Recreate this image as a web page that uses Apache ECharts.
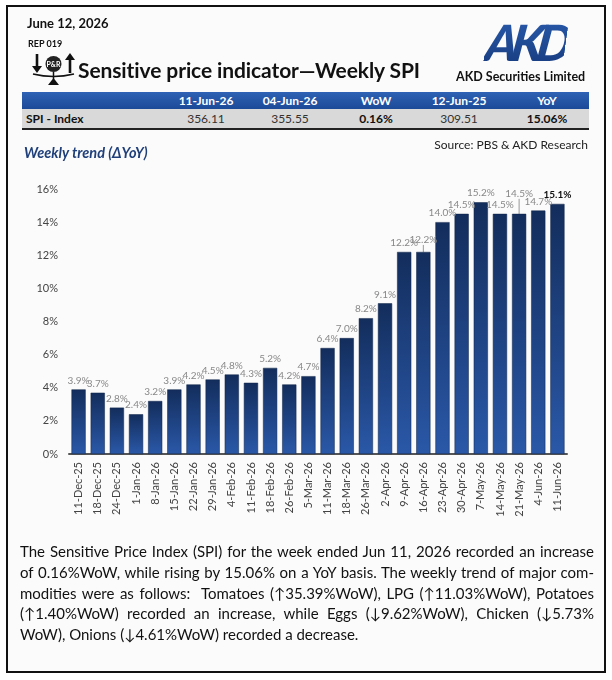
<!DOCTYPE html>
<html>
<head>
<meta charset="utf-8">
<script src="https://cdn.jsdelivr.net/npm/echarts@6/dist/echarts.min.js"></script>
<style>
  html, body { margin:0; padding:0; background:#fff; width:612px; height:680px; overflow:hidden; font-family: Lato, "Open Sans", sans-serif; }
  #frame { position:absolute; left:6px; top:5px; width:596px; height:664px; border:2px solid #111; background:#fbfbfb; }
  #chart { position:absolute; left:0; top:0; width:612px; height:680px; }
  .abs { position:absolute; white-space:nowrap; }
  #date { left:27px; top:15px; font-weight:bold; font-size:13px; color:#111; }
  #rep { left:28px; top:38px; font-weight:bold; font-size:9px; color:#111; }
  #title { left:78px; top:57px; font-weight:bold; font-size:21px; color:#111; letter-spacing:-0.1px; }
  #logo { left:486px; top:12px; font-weight:900; font-style:italic; font-size:50px; letter-spacing:-7px; transform:skewX(-8deg);
          background:linear-gradient(#2a5cae,#163a7c); -webkit-background-clip:text; background-clip:text; color:transparent; }
  #company { left:456px; top:69px; font-weight:bold; font-size:12.5px; color:#111; }
  #thead { left:22px; top:92px; width:567px; height:17px; background:linear-gradient(#2f62b4,#1b4a98); }
  #trow { left:22px; top:109px; width:567px; height:19px; background:#d9d9d9; border-bottom:2px solid #222; }
  .th { position:absolute; top:1px; color:#fff; font-weight:bold; font-size:12px; transform:translateX(-50%); white-space:nowrap; }
  .td { position:absolute; top:2px; color:#333; font-size:12px; transform:translateX(-50%); white-space:nowrap; }
  #sub { left:24px; top:144px; font-weight:bold; font-style:italic; font-size:14.5px; color:#1f3f7a; }
  #source { right:24px; top:137px; font-size:12px; color:#222; }
  #para { left:20px; top:541px; width:574px; font-size:15px; color:#111; line-height:20.8px; }
  #para .l { text-align:justify; text-align-last:justify; white-space:nowrap; }
  #para .last { text-align:left; text-align-last:left; }
</style>
</head>
<body>
<div id="frame"></div>
<div id="chart"></div>

<div class="abs" id="date">June 12, 2026</div>
<div class="abs" id="rep">REP 019</div>
<svg class="abs" style="left:31px;top:52px" width="46" height="34" viewBox="0 0 46 34">
  <line x1="6" y1="2" x2="6" y2="17" stroke="#111" stroke-width="2.6"/>
  <polygon points="1,14 11,14 6,21" fill="#111"/>
  <line x1="39" y1="21" x2="39" y2="6" stroke="#111" stroke-width="2.6"/>
  <polygon points="34,8 44,8 39,1" fill="#111"/>
  <circle cx="22.5" cy="12" r="8" fill="#222"/>
  <text x="22.5" y="14.5" font-size="7" font-weight="bold" fill="#fff" text-anchor="middle" font-family="Lato, sans-serif">P&amp;R</text>
  <path d="M2 22 Q22.5 27 43 22" stroke="#111" stroke-width="1.6" fill="none"/>
  <line x1="22.5" y1="20" x2="22.5" y2="27" stroke="#111" stroke-width="1.5"/>
  <polygon points="17,33 28,33 22.5,26" fill="#111"/>
</svg>
<div class="abs" id="title">Sensitive price indicator—Weekly SPI</div>
<div class="abs" id="logo">AKD</div>
<div class="abs" id="company">AKD Securities Limited</div>

<div class="abs" id="thead"></div>
<div class="abs" id="trow"></div>
<div class="abs" id="sub">Weekly trend (ΔYoY)</div>
<div class="abs" id="source">Source: PBS &amp; AKD Research</div>

<div class="abs" id="para">
  <div class="l">The Sensitive Price Index (SPI) for the week ended Jun 11, 2026 recorded an increase</div>
  <div class="l">of 0.16%WoW, while rising by 15.06% on a YoY basis. The weekly trend of major com-</div>
  <div class="l">modities were as follows:&nbsp; Tomatoes (↑35.39%WoW), LPG (↑11.03%WoW), Potatoes</div>
  <div class="l">(↑1.40%WoW) recorded an increase, while Eggs (↓9.62%WoW), Chicken (↓5.73%</div>
  <div class="l last">WoW), Onions (↓4.61%WoW) recorded a decrease.</div>
</div>

<script>
// ---- Data ----
const tableHeaders = ["11-Jun-26", "04-Jun-26", "WoW", "12-Jun-25", "YoY"];
const tableRowLabel = "SPI - Index";
const tableRowValues = ["356.11", "355.55", "0.16%", "309.51", "15.06%"];
const tableBold = [false, false, true, false, true];

const weeks = ["11-Dec-25","18-Dec-25","24-Dec-25","1-Jan-26","8-Jan-26","15-Jan-26","22-Jan-26","29-Jan-26",
  "4-Feb-26","11-Feb-26","18-Feb-26","26-Feb-26","5-Mar-26","11-Mar-26","18-Mar-26","26-Mar-26",
  "2-Apr-26","9-Apr-26","16-Apr-26","23-Apr-26","30-Apr-26","7-May-26","14-May-26","21-May-26","4-Jun-26","11-Jun-26"];
const yoyValues = [3.9,3.7,2.8,2.4,3.2,3.9,4.2,4.5,4.8,4.3,5.2,4.2,4.7,6.4,7.0,8.2,9.1,12.2,12.2,14.0,14.5,15.2,14.5,14.5,14.7,15.1];

// ---- Table ----
const colCenters = [184, 268, 354, 437, 525];
const thead = document.getElementById('thead');
const trow = document.getElementById('trow');
tableHeaders.forEach((h, i) => {
  const d = document.createElement('div'); d.className = 'th'; d.style.left = colCenters[i] + 'px'; d.textContent = h; thead.appendChild(d);
});
const lab = document.createElement('div'); lab.className = 'td'; lab.style.left = '4px'; lab.style.transform = 'none';
lab.style.fontWeight = 'bold'; lab.style.color = '#111'; lab.textContent = tableRowLabel; trow.appendChild(lab);
tableRowValues.forEach((v, i) => {
  const d = document.createElement('div'); d.className = 'td'; d.style.left = colCenters[i] + 'px'; d.textContent = v;
  if (tableBold[i]) { d.style.fontWeight = 'bold'; d.style.color = '#111'; }
  trow.appendChild(d);
});

// ---- Chart ----
const chart = echarts.init(document.getElementById('chart'), null, { renderer: 'canvas' });
const lastIdx = yoyValues.length - 1;
const barData = yoyValues.map((v, i) => {
  const item = { value: v };
  if (i === lastIdx) item.label = { color: '#111', fontWeight: 'bold' };
  if (i === 23 || i === 18) item.labelLine = { show: true };
  return item;
});
chart.setOption({
  backgroundColor: 'transparent',
  animation: false,
  grid: { left: 69, top: 189, width: 498, height: 265 },
  xAxis: {
    type: 'category', data: weeks,
    axisLine: { lineStyle: { color: '#555', width: 2 } },
    axisTick: { show: false },
    axisLabel: { rotate: 90, color: '#444', fontSize: 11, fontFamily: 'Lato, sans-serif', margin: 8, interval: 0 }
  },
  yAxis: {
    type: 'value', min: 0, max: 16, interval: 2,
    splitLine: { show: false },
    axisLine: { show: false }, axisTick: { show: false },
    axisLabel: { formatter: '{value}%', color: '#444', fontSize: 11, fontFamily: 'Lato, sans-serif', margin: 11 }
  },
  series: [{
    type: 'bar', data: barData, barCategoryGap: '26%',
    itemStyle: {
      color: new echarts.graphic.LinearGradient(0, 0, 0, 1, [
        { offset: 0, color: '#132d5c' }, { offset: 1, color: '#2a58a8' }
      ]),
      borderColor: '#0f2448', borderWidth: 0.5
    },
    label: {
      show: true, position: 'top', distance: 4, color: '#888', fontSize: 10, fontFamily: 'Lato, sans-serif',
      formatter: p => p.value.toFixed(1) + '%'
    },
    labelLayout: p => (p.dataIndex === 23 ? { dy: -11 } : (p.dataIndex === 18 ? { dy: -3 } : {})),
    labelLine: { show: false, lineStyle: { color: '#999', width: 1 } }
  }]
});
</script>
</body>
</html>
